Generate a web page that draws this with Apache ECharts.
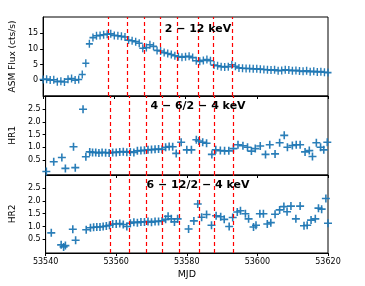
<!DOCTYPE html>
<html><head><meta charset="utf-8">
<script src="https://cdn.jsdelivr.net/npm/echarts@6/dist/echarts.min.js"></script>
<style>html,body{margin:0;padding:0;background:#fff}#c{width:365px;height:286px}</style>
</head><body><div id="c"></div>
<script>
const xTicks = [53540, 53560, 53580, 53600, 53620];
const vLines = [53558.3, 53563.6, 53568.5, 53573.0, 53577.8, 53583.6, 53587.7, 53593.2];
const asmMjd = [53540,53541,53542,53543,53544,53545,53546,53547,53548,53549,53550,
  53551,53552,53553,53554,53555,53556,53557,53558,53559,53560,
  53561,53562,53563,53564,53565,53566,53567,53568,53569,53570,
  53571,53572,53573,53574,53575,53576,53577,53578,53579,53580,
  53581,53582,53583,53584,53585,53586,53587,53588,53589,53590,
  53591,53592,53593,53594,53595,53596,53597,53598,53599,53600,
  53601,53602,53603,53604,53605,53606,53607,53608,53609,53610,
  53611,53612,53613,53614,53615,53616,53617,53618,53619,53620];
const asmFlux = [0.2,0.3,0.0,0.1,-0.5,-0.4,-0.6,0.3,0.5,0.0,0.2,
  1.8,5.4,11.6,13.6,14.2,14.3,14.5,14.7,14.8,14.3,
  14.2,14.0,13.8,12.8,12.6,12.3,11.8,10.2,10.4,11.3,
  10.8,9.5,9.3,8.8,8.5,8.2,7.8,7.5,7.3,7.5,
  7.6,7.2,6.2,6.0,6.3,6.6,6.2,4.8,4.6,4.3,
  4.2,4.3,4.9,4.4,3.9,3.8,3.7,3.7,3.6,3.6,
  3.5,3.4,3.3,3.2,3.3,3.0,3.1,3.3,3.2,3.0,
  3.1,2.9,2.8,3.0,2.7,2.8,2.6,2.7,2.5,2.4];
const hr1Mjd = [53540.2,53542.3,53544.6,53545.6,53547.9,53548.4,53550.6,53551.4,53552.5,53553.3,
  53554.2,53555.1,53556,53557,53558,53559,53560,53561,53562,53563,
  53564,53565,53566,53567,53568,53569,53570,53571,53572,53573,
  53574,53575,53576,53577,53578.4,53580,53581.3,53582.7,53583.4,53584.5,
  53585.6,53587.1,53588.2,53589.5,53590.7,53591.9,53593.2,53594.5,53595.9,53597.2,
  53598.3,53599.4,53600.8,53602.3,53603.5,53605,53606.3,53607.6,53608.5,53609.9,
  53611,53612.1,53613.5,53614.7,53615.6,53616.7,53617.9,53618.8,53619.8];
const hr1 = [0.05,0.43,0.6,0.17,1.02,0.2,2.5,0.63,0.82,0.8,
  0.8,0.78,0.8,0.79,0.78,0.8,0.8,0.82,0.83,0.81,
  0.82,0.8,0.86,0.87,0.88,0.9,0.91,0.92,0.93,0.92,
  1.0,1.03,1.02,0.76,1.2,0.9,0.9,1.3,1.25,1.2,
  1.16,0.72,0.9,0.87,0.86,0.86,0.95,1.1,1.06,1.0,
  0.85,0.95,1.05,0.72,1.1,0.74,1.18,1.47,1.0,1.07,
  1.1,1.1,0.82,0.87,0.64,1.18,1.0,0.9,1.2];
const hr2Mjd = [53541.6,53544.4,53545.1,53545.6,53547.7,53548.5,53551.5,53552.7,53553.6,53554.5,
  53555.4,53556.3,53557.2,53558.1,53559,53560,53561,53562,53563,53564,
  53565,53566,53567,53568,53569,53570,53571,53572,53573,53574,
  53574.7,53575.6,53576.5,53577.4,53580.5,53582,53583.1,53584.2,53585.6,53587,
  53588.3,53589.6,53590.6,53592,53593,53594.3,53595.2,53596.6,53597.5,53598.9,
  53599.6,53600.7,53601.7,53602.8,53603.8,53605,53606.3,53607.5,53608.4,53609.5,
  53610.9,53612.1,53613.2,53614.1,53615.2,53616.4,53617.3,53618.2,53619.4,53620];
const hr2 = [0.75,0.28,0.2,0.25,0.89,0.46,0.87,0.95,0.97,0.98,
  0.98,1.0,1.02,1.05,1.1,1.1,1.12,1.08,1.0,1.13,
  1.17,1.15,1.18,1.18,1.2,1.17,1.2,1.2,1.22,1.28,
  1.4,1.3,1.18,1.3,0.9,1.22,1.88,1.36,1.47,1.05,
  1.42,1.38,1.28,1.0,1.35,1.57,1.62,1.5,1.3,0.98,
  1.05,1.5,1.5,1.1,1.15,1.48,1.65,1.78,1.58,1.8,
  1.3,1.8,1.03,1.05,1.25,1.3,1.72,1.68,2.1,1.13];
const asmTicks = [0, 5, 10, 15];
const hrTicks = [0.5, 1.0, 1.5, 2.0, 2.5];
const panelTitles = ['2 \u2212 12 keV', '4 \u2212 6/2 \u2212 4 keV', '6 \u2212 12/2 \u2212 4 keV'];
const yNames = ['ASM Flux (cts/s)', 'HR1', 'HR2'];

const FONT = 'DejaVu Sans';
const BLUE = '#1f77b4';
const plus = 'path://M-0.2,-1 L0.2,-1 L0.2,-0.2 L1,-0.2 L1,0.2 L0.2,0.2 L0.2,1 L-0.2,1 L-0.2,0.2 L-1,0.2 L-1,-0.2 L-0.2,-0.2 Z';

const chart = echarts.init(document.getElementById('c'), null, {renderer: 'canvas'});
const grids = [
  {left: 40, right: 37, top: 17, height: 79},
  {left: 40, right: 37, top: 96, height: 79},
  {left: 40, right: 37, top: 175, height: 78}
].map(g => Object.assign(g, {show: true, borderColor: '#000', borderWidth: 1, backgroundColor: 'transparent'}));

const xAxes = [0, 1, 2].map(i => ({
  type: 'value', gridIndex: i, min: 53540, max: 53620, interval: 20,
  axisLine: {show: true, onZero: false, lineStyle: {color: '#000', width: 1}},
  axisTick: {show: true, length: 3, lineStyle: {color: '#000'}, customValues: xTicks},
  axisLabel: {show: i === 2, fontFamily: FONT, fontSize: 8, color: '#000', margin: 5,
    customValues: xTicks, formatter: v => String(v)},
  splitLine: {show: false},
  name: i === 2 ? 'MJD' : '', nameLocation: 'middle', nameGap: 17,
  nameTextStyle: {fontFamily: FONT, fontSize: 9.5, color: '#000'}
}));
const yRanges = [[-5.1, 20.2], [-0.09, 3.02], [-0.04, 3.02]];
const yAxes = [0, 1, 2].map(i => ({
  type: 'value', gridIndex: i, min: yRanges[i][0], max: yRanges[i][1],
  axisLine: {show: true, lineStyle: {color: '#000', width: 1}},
  axisTick: {show: true, length: 3, lineStyle: {color: '#000'}, customValues: i === 0 ? asmTicks : hrTicks},
  axisLabel: {fontFamily: FONT, fontSize: 8, color: '#000', margin: 5,
    customValues: i === 0 ? asmTicks : hrTicks,
    formatter: v => i === 0 ? String(v) : v.toFixed(1)},
  splitLine: {show: false},
  name: yNames[i], nameLocation: 'middle', nameGap: i === 0 ? 22 : 25,
  nameTextStyle: {fontFamily: FONT, fontSize: 9, color: '#000'}
}));

const datasets = [[asmMjd, asmFlux], [hr1Mjd, hr1], [hr2Mjd, hr2]];
const series = datasets.map((d, i) => ({
  type: 'scatter', xAxisIndex: i, yAxisIndex: i,
  data: d[0].map((x, k) => [x, d[1][k]]),
  symbol: plus, symbolSize: i === 0 ? [7, 8] : 8,
  itemStyle: {color: BLUE, opacity: 0.95},
  silent: true, animation: false,
  markLine: {
    silent: true, symbol: 'none', animation: false,
    label: {show: false},
    lineStyle: {color: '#ff0000', type: [4, 3], width: 1.2},
    data: vLines.map(v => ({xAxis: v}))
  }
}));

const titleY = [29, 106, 185];
const graphic = panelTitles.map((t, i) => ({
  type: 'text', x: 198, y: titleY[i], z: 100,
  style: {text: t, fontFamily: FONT, fontSize: 11, fontWeight: 'bold', fill: '#000', align: 'center', verticalAlign: 'middle'}
}));

chart.setOption({
  animation: false,
  grid: grids, xAxis: xAxes, yAxis: yAxes, series: series, graphic: graphic
});
</script></body></html>
